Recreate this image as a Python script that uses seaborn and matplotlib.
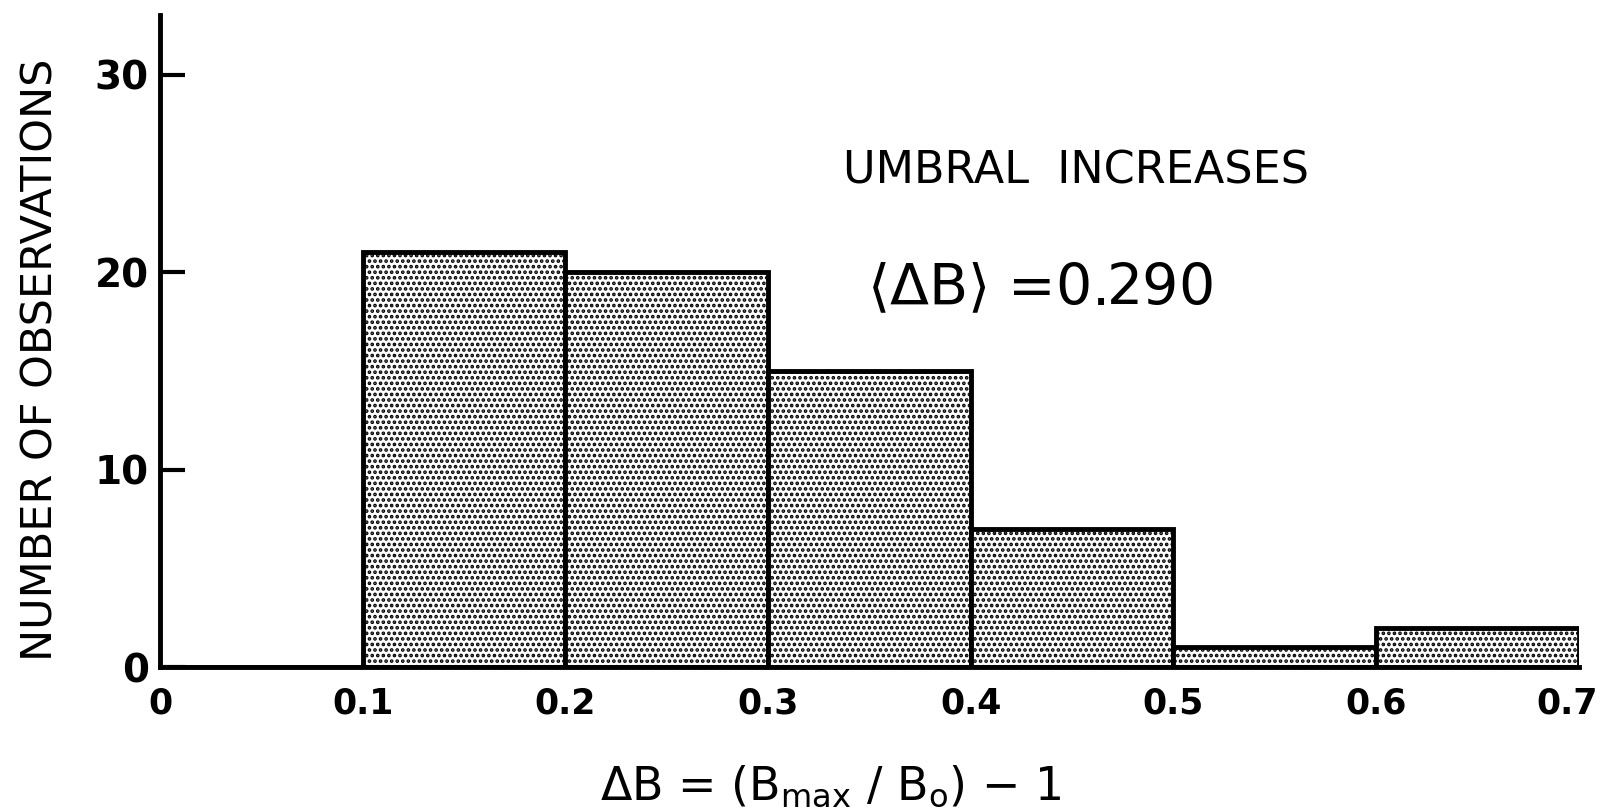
import numpy as np
import matplotlib
matplotlib.use("Agg")
import matplotlib.pyplot as plt
import matplotlib.transforms as mtransforms
import seaborn as sns

# histogram of umbral field increases
bin_edges = [0.0, 0.1, 0.2, 0.3, 0.4, 0.5, 0.6, 0.7]
counts = [0, 21, 20, 15, 7, 1, 2]
x_ticks = [0, 0.1, 0.2, 0.3, 0.4, 0.5, 0.6, 0.7]
x_tick_labels = ["0", "0.1", "0.2", "0.3", "0.4", "0.5", "0.6", "0.7"]
y_ticks = [0, 10, 20, 30]

centers = [(bin_edges[i] + bin_edges[i + 1]) / 2 for i in range(len(counts))]

sns.set_style("white")
plt.rcParams['font.family'] = ['DejaVu Sans']
plt.rcParams['mathtext.fontset'] = 'dejavusans'
plt.rcParams['hatch.linewidth'] = 1.8
for k in ['text.color', 'axes.labelcolor', 'xtick.color', 'ytick.color']:
    plt.rcParams[k] = 'black'

fig = plt.figure(figsize=(16.03, 8.10), dpi=100)
ax = fig.add_axes([0.0998, 0.1765, 0.885, 0.8045])

sns.histplot(x=centers, weights=counts, bins=bin_edges, ax=ax,
             color="white", edgecolor="black", linewidth=3.5,
             alpha=1, hatch="...")

ax.set_xlim(0, 0.7)
ax.set_ylim(0, 33)

for s in ["top", "right"]:
    ax.spines[s].set_visible(False)
for s in ["left", "bottom"]:
    ax.spines[s].set_linewidth(3.5)
    ax.spines[s].set_color("black")

ax.set_yticks(y_ticks)
ax.set_yticklabels([str(v) for v in y_ticks], fontsize=28, fontweight="bold")
ax.set_xticks(x_ticks)
ax.set_xticklabels(x_tick_labels, fontsize=25, fontweight="bold")
ax.tick_params(axis="y", direction="in", length=18, width=3, left=True, pad=8)
ax.tick_params(axis="x", length=0, pad=14)

# keep the last label inside the canvas
lbl = ax.get_xticklabels()[-1]
lbl.set_transform(lbl.get_transform() + mtransforms.ScaledTranslation(-0.12, 0, fig.dpi_scale_trans))

ax.set_ylabel("NUMBER OF OBSERVATIONS", fontsize=31, va="center")
ax.yaxis.set_label_coords(-0.084, 0.471)
ax.set_xlabel(r"$\Delta$B = (B$_{\mathrm{max}}$ / B$_{\mathrm{o}}$) $-$ 1", fontsize=33, va="center")
ax.xaxis.set_label_coords(0.473, -0.184)

ax.text(0.452, 25.1, "UMBRAL  INCREASES", fontsize=32, ha="center", va="center")
ax.text(0.434, 19.1, r"$\langle\Delta\mathrm{B}\rangle$ =0.290", fontsize=41, ha="center", va="center")

fig.savefig("out.png", dpi=100)
